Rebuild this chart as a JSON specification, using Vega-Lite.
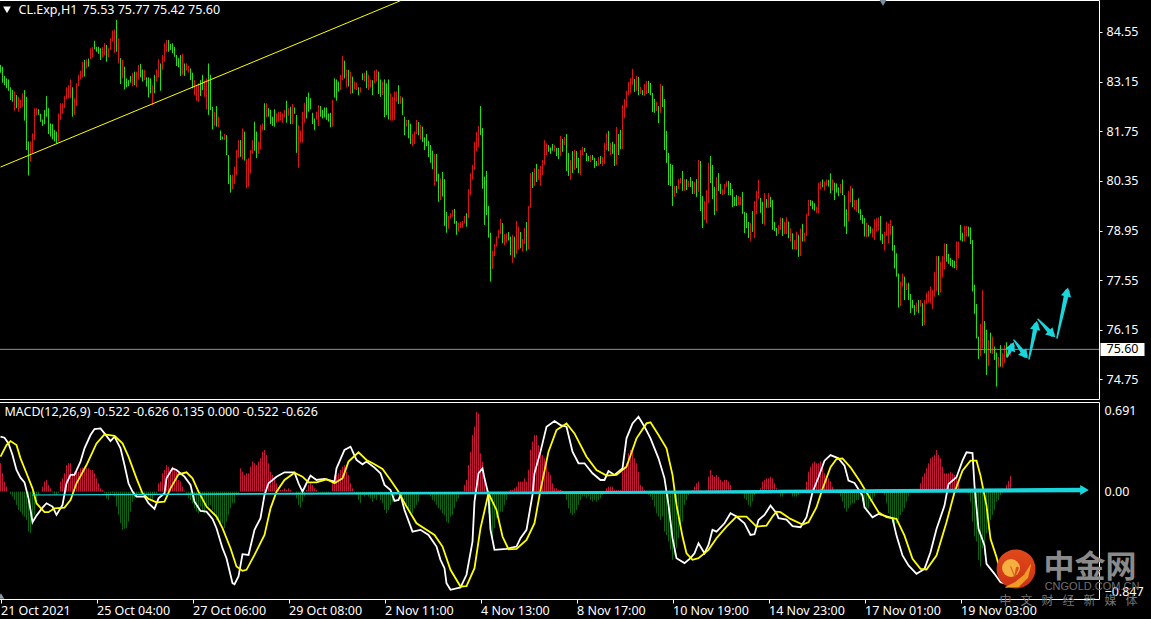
{"$schema":"https://vega.github.io/schema/vega-lite/v6.json","background":"#000000","padding":{"left":-4,"top":-2,"right":6,"bottom":2},"spacing":1,
"config":{"view":{"stroke":"#ffffff","strokeWidth":1},"axis":{"labelFont":"Noto Sans","labelFontSize":12.5,"labelColor":"#ffffff","grid":false,"domain":false,"title":null,"tickColor":"#ffffff"},"text":{"font":"Noto Sans","fontSize":12.5,"color":"#ffffff"}},
"datasets":{"b":[
{"x":0,"l":83.4,"h":83.62,"u":1,"d":0.241},{"x":1,"l":83.12,"h":83.57,"u":1,"d":0.156},{"x":2,"l":83.05,"h":83.31,"u":1,"d":0.085},{"x":3,"l":82.96,"h":83.24,"u":1,"d":0.042},{"x":4,"l":82.89,"h":83.21,"u":1,"d":0},{"x":5,"l":82.63,"h":82.99,"u":1,"d":-0.023},{"x":6,"l":82.58,"h":82.91,"u":1,"d":-0.042},{"x":7,"l":82.33,"h":82.87,"u":0,"d":-0.071},{"x":8,"l":82.4,"h":82.77,"u":1,"d":-0.113},{"x":9,"l":82.3,"h":82.72,"u":0,"d":-0.156},
{"x":10,"l":82.4,"h":82.63,"u":0,"d":-0.17},{"x":11,"l":82.44,"h":82.82,"u":0,"d":-0.198},{"x":12,"l":82.05,"h":82.91,"u":1,"d":-0.212},{"x":13,"l":81.22,"h":82.72,"u":1,"d":-0.241},{"x":14,"l":80.5,"h":81.46,"u":1,"d":-0.34},{"x":15,"l":80.89,"h":81.46,"u":0,"d":-0.354},{"x":16,"l":81.13,"h":81.69,"u":0,"d":-0.283},{"x":17,"l":81.5,"h":82.4,"u":0,"d":-0.198},{"x":18,"l":82.21,"h":82.4,"u":0,"d":-0.085},{"x":19,"l":82.21,"h":82.37,"u":1,"d":-0.028},
{"x":20,"l":82.02,"h":82.24,"u":1,"d":0},{"x":21,"l":81.9,"h":82.08,"u":1,"d":0.042},{"x":22,"l":81.95,"h":82.35,"u":1,"d":0.085},{"x":23,"l":82.16,"h":82.74,"u":1,"d":0.099},{"x":24,"l":81.67,"h":82.4,"u":1,"d":0.057},{"x":25,"l":81.6,"h":81.97,"u":1,"d":0.028},{"x":26,"l":81.52,"h":81.95,"u":1,"d":-0.008},{"x":27,"l":81.46,"h":81.78,"u":1,"d":-0.023},{"x":28,"l":81.41,"h":81.74,"u":1,"d":-0.028},{"x":29,"l":81.46,"h":82.25,"u":0,"d":-0.014},
{"x":30,"l":82.07,"h":82.54,"u":0,"d":0.085},{"x":31,"l":82.24,"h":82.54,"u":0,"d":0.113},{"x":32,"l":82.4,"h":82.74,"u":0,"d":0.156},{"x":33,"l":82.65,"h":82.99,"u":0,"d":0.226},{"x":34,"l":82.68,"h":83.05,"u":0,"d":0.241},{"x":35,"l":82.68,"h":83.21,"u":0,"d":0.241},{"x":36,"l":82.16,"h":82.99,"u":1,"d":0.156},{"x":37,"l":82.21,"h":82.68,"u":0,"d":0.17},{"x":38,"l":82.46,"h":83.1,"u":0,"d":0.198},{"x":39,"l":83.02,"h":83.34,"u":0,"d":0.17},
{"x":40,"l":83.21,"h":83.46,"u":0,"d":0.198},{"x":41,"l":83.27,"h":83.71,"u":0,"d":0.204},{"x":42,"l":83.29,"h":83.76,"u":1,"d":0.212},{"x":43,"l":83.52,"h":83.78,"u":0,"d":0.198},{"x":44,"l":83.57,"h":83.8,"u":1,"d":0.198},{"x":45,"l":83.78,"h":84.09,"u":0,"d":0.184},{"x":46,"l":83.83,"h":84.13,"u":0,"d":0.184},{"x":47,"l":84.06,"h":84.3,"u":1,"d":0.156},{"x":48,"l":83.99,"h":84.13,"u":1,"d":0.113},{"x":49,"l":83.93,"h":84.13,"u":1,"d":0.071},
{"x":50,"l":83.76,"h":84.09,"u":1,"d":0.028},{"x":51,"l":83.83,"h":84.12,"u":0,"d":0.014},{"x":52,"l":83.9,"h":84.23,"u":0,"d":-0.014},{"x":53,"l":83.71,"h":84.18,"u":1,"d":-0.057},{"x":54,"l":83.83,"h":84.09,"u":0,"d":-0.071},{"x":55,"l":84.04,"h":84.37,"u":0,"d":-0.028},{"x":56,"l":84.28,"h":84.59,"u":0,"d":-0.014},{"x":57,"l":83.96,"h":84.62,"u":0,"d":-0.042},{"x":58,"l":83.99,"h":84.89,"u":1,"d":-0.127},{"x":59,"l":83.66,"h":84.37,"u":0,"d":-0.198},
{"x":60,"l":83.08,"h":83.81,"u":1,"d":-0.269},{"x":61,"l":83.24,"h":83.76,"u":0,"d":-0.325},{"x":62,"l":82.93,"h":83.57,"u":1,"d":-0.317},{"x":63,"l":82.99,"h":83.24,"u":1,"d":-0.311},{"x":64,"l":83.02,"h":83.19,"u":1,"d":-0.255},{"x":65,"l":83.12,"h":83.31,"u":1,"d":-0.17},{"x":66,"l":83.02,"h":83.4,"u":0,"d":-0.085},{"x":67,"l":83.05,"h":83.43,"u":1,"d":-0.057},{"x":68,"l":82.99,"h":83.43,"u":0,"d":-0.042},{"x":69,"l":83.21,"h":83.62,"u":0,"d":-0.014},
{"x":70,"l":83.27,"h":83.65,"u":1,"d":-0.014},{"x":71,"l":83.15,"h":83.49,"u":1,"d":-0.028},{"x":72,"l":83.19,"h":83.48,"u":0,"d":-0.042},{"x":73,"l":83.01,"h":83.27,"u":1,"d":-0.028},{"x":74,"l":82.7,"h":83.27,"u":1,"d":-0.042},{"x":75,"l":82.82,"h":83.24,"u":1,"d":-0.057},{"x":76,"l":82.49,"h":83.05,"u":0,"d":-0.071},{"x":77,"l":82.82,"h":83.34,"u":1,"d":-0.028},{"x":78,"l":83.15,"h":83.49,"u":0,"d":-0.014},{"x":79,"l":83.27,"h":83.78,"u":0,"d":0.071},
{"x":80,"l":82.89,"h":83.66,"u":1,"d":0.085},{"x":81,"l":83.48,"h":83.9,"u":0,"d":0.156},{"x":82,"l":83.71,"h":84.23,"u":0,"d":0.184},{"x":83,"l":83.99,"h":84.32,"u":0,"d":0.226},{"x":84,"l":83.99,"h":84.32,"u":1,"d":0.212},{"x":85,"l":84.04,"h":84.21,"u":1,"d":0.184},{"x":86,"l":83.95,"h":84.23,"u":1,"d":0.212},{"x":87,"l":83.85,"h":84.13,"u":1,"d":0.198},{"x":88,"l":83.59,"h":83.9,"u":1,"d":0.17},{"x":89,"l":83.55,"h":83.81,"u":1,"d":0.099},
{"x":90,"l":83.31,"h":83.9,"u":1,"d":0.085},{"x":91,"l":83.34,"h":83.93,"u":0,"d":0.042},{"x":92,"l":83.31,"h":83.66,"u":1,"d":0.008},{"x":93,"l":83.46,"h":83.66,"u":0,"d":-0.028},{"x":94,"l":83.4,"h":83.59,"u":0,"d":-0.057},{"x":95,"l":83.19,"h":83.52,"u":1,"d":-0.071},{"x":96,"l":82.96,"h":83.4,"u":1,"d":-0.099},{"x":97,"l":82.77,"h":83.19,"u":0,"d":-0.142},{"x":98,"l":82.61,"h":83.05,"u":0,"d":-0.17},{"x":99,"l":82.58,"h":83.1,"u":0,"d":-0.184},
{"x":100,"l":82.74,"h":83.19,"u":1,"d":-0.127},{"x":101,"l":82.91,"h":83.34,"u":1,"d":-0.17},{"x":102,"l":82.72,"h":83.18,"u":0,"d":-0.184},{"x":103,"l":82.37,"h":83.24,"u":0,"d":-0.142},{"x":104,"l":82.21,"h":83.66,"u":1,"d":-0.127},{"x":105,"l":82.35,"h":83.34,"u":1,"d":-0.113},{"x":106,"l":81.8,"h":82.44,"u":1,"d":-0.156},{"x":107,"l":81.9,"h":82.3,"u":0,"d":-0.198},{"x":108,"l":81.88,"h":82.46,"u":1,"d":-0.241},{"x":109,"l":81.86,"h":82.16,"u":0,"d":-0.241},
{"x":110,"l":81.5,"h":81.77,"u":1,"d":-0.283},{"x":111,"l":81.52,"h":81.6,"u":1,"d":-0.269},{"x":112,"l":81.5,"h":81.67,"u":0,"d":-0.311},{"x":113,"l":81.08,"h":81.64,"u":1,"d":-0.255},{"x":114,"l":80.26,"h":81.08,"u":1,"d":-0.198},{"x":115,"l":80.02,"h":80.52,"u":1,"d":-0.142},{"x":116,"l":80.11,"h":80.52,"u":0,"d":-0.099},{"x":117,"l":80.26,"h":80.75,"u":0,"d":-0.099},{"x":118,"l":80.52,"h":81.22,"u":0,"d":-0.028},{"x":119,"l":81.01,"h":81.5,"u":0,"d":-0.014},
{"x":120,"l":81.03,"h":81.5,"u":1,"d":0.198},{"x":121,"l":80.96,"h":81.83,"u":0,"d":0.17},{"x":122,"l":80.92,"h":81.74,"u":1,"d":0.142},{"x":123,"l":80.14,"h":80.96,"u":0,"d":0.156},{"x":124,"l":80.19,"h":80.99,"u":0,"d":0.156},{"x":125,"l":80.56,"h":81.22,"u":0,"d":0.212},{"x":126,"l":81.11,"h":81.5,"u":0,"d":0.255},{"x":127,"l":81.2,"h":82.02,"u":1,"d":0.241},{"x":128,"l":80.99,"h":81.74,"u":1,"d":0.226},{"x":129,"l":81.11,"h":81.46,"u":0,"d":0.255},
{"x":130,"l":81.24,"h":81.92,"u":0,"d":0.283},{"x":131,"l":81.77,"h":81.97,"u":0,"d":0.34},{"x":132,"l":81.78,"h":82.54,"u":1,"d":0.354},{"x":133,"l":82.14,"h":82.54,"u":0,"d":0.311},{"x":134,"l":82.16,"h":82.4,"u":1,"d":0.241},{"x":135,"l":81.95,"h":82.35,"u":1,"d":0.17},{"x":136,"l":81.9,"h":82.16,"u":1,"d":0.142},{"x":137,"l":81.88,"h":82.37,"u":1,"d":0.113},{"x":138,"l":81.99,"h":82.25,"u":0,"d":0.071},{"x":139,"l":82.02,"h":82.3,"u":0,"d":0.028},
{"x":140,"l":82.05,"h":82.3,"u":0,"d":0.014},{"x":141,"l":81.99,"h":82.25,"u":0,"d":0.014},{"x":142,"l":82.14,"h":82.35,"u":0,"d":0.028},{"x":143,"l":81.99,"h":82.61,"u":1,"d":0.014},{"x":144,"l":82.18,"h":82.4,"u":0,"d":0.028},{"x":145,"l":81.95,"h":82.44,"u":1,"d":0.014},{"x":146,"l":81.95,"h":82.52,"u":0,"d":0},{"x":147,"l":82.24,"h":82.42,"u":1,"d":0},{"x":148,"l":81.14,"h":82.21,"u":1,"d":-0.057},{"x":149,"l":80.72,"h":81.92,"u":0,"d":-0.113},
{"x":150,"l":81.43,"h":81.77,"u":0,"d":-0.136},{"x":151,"l":81.43,"h":82.3,"u":0,"d":-0.085},{"x":152,"l":81.99,"h":82.55,"u":0,"d":-0.042},{"x":153,"l":82.11,"h":82.72,"u":1,"d":0.014},{"x":154,"l":82.3,"h":82.84,"u":1,"d":0.057},{"x":155,"l":82.37,"h":82.68,"u":1,"d":0.071},{"x":156,"l":81.95,"h":82.27,"u":1,"d":0.057},{"x":157,"l":81.78,"h":82.11,"u":1,"d":0.028},{"x":158,"l":82.08,"h":82.3,"u":0,"d":0.014},{"x":159,"l":81.9,"h":82.49,"u":0,"d":-0.008},
{"x":160,"l":82.16,"h":82.46,"u":1,"d":-0.008},{"x":161,"l":82.11,"h":82.35,"u":1,"d":-0.014},{"x":162,"l":82.14,"h":82.42,"u":1,"d":-0.008},{"x":163,"l":82.07,"h":82.42,"u":1,"d":-0.023},{"x":164,"l":82.02,"h":82.25,"u":1,"d":-0.014},{"x":165,"l":81.86,"h":82.27,"u":1,"d":-0.008},{"x":166,"l":81.88,"h":82.63,"u":0,"d":0.099},{"x":167,"l":82.7,"h":83.24,"u":1,"d":0.142},{"x":168,"l":82.61,"h":83.21,"u":1,"d":0.142},{"x":169,"l":82.87,"h":83.15,"u":1,"d":0.156},
{"x":170,"l":82.91,"h":83.34,"u":0,"d":0.184},{"x":171,"l":83.19,"h":83.87,"u":0,"d":0.212},{"x":172,"l":83.24,"h":83.74,"u":1,"d":0.226},{"x":173,"l":82.99,"h":83.49,"u":0,"d":0.17},{"x":174,"l":83.01,"h":83.48,"u":1,"d":0.142},{"x":175,"l":82.8,"h":83.43,"u":0,"d":0.071},{"x":176,"l":82.82,"h":83.29,"u":1,"d":0.028},{"x":177,"l":82.93,"h":83.15,"u":0,"d":-0.008},{"x":178,"l":82.91,"h":83.12,"u":0,"d":-0.028},{"x":179,"l":82.77,"h":82.99,"u":1,"d":-0.071},
{"x":180,"l":82.84,"h":82.99,"u":0,"d":-0.099},{"x":181,"l":83.19,"h":83.38,"u":1,"d":-0.028},{"x":182,"l":83.15,"h":83.4,"u":0,"d":-0.042},{"x":183,"l":82.96,"h":83.46,"u":1,"d":-0.028},{"x":184,"l":82.91,"h":83.34,"u":0,"d":-0.042},{"x":185,"l":82.99,"h":83.21,"u":0,"d":-0.057},{"x":186,"l":82.77,"h":83.19,"u":1,"d":-0.085},{"x":187,"l":83.1,"h":83.46,"u":0,"d":-0.057},{"x":188,"l":83.15,"h":83.49,"u":0,"d":-0.071},{"x":189,"l":82.8,"h":83.43,"u":1,"d":-0.028},
{"x":190,"l":82.72,"h":83.21,"u":1,"d":-0.071},{"x":191,"l":82.77,"h":83.15,"u":0,"d":-0.099},{"x":192,"l":82.14,"h":83.21,"u":1,"d":-0.156},{"x":193,"l":82.21,"h":83.1,"u":1,"d":-0.184},{"x":194,"l":82.08,"h":83.21,"u":1,"d":-0.156},{"x":195,"l":82.05,"h":82.82,"u":0,"d":-0.113},{"x":196,"l":82.05,"h":82.72,"u":0,"d":-0.085},{"x":197,"l":82.07,"h":82.87,"u":0,"d":-0.042},{"x":198,"l":82.58,"h":82.87,"u":0,"d":-0.014},{"x":199,"l":82.52,"h":83.05,"u":1,"d":-0.008},
{"x":200,"l":82.52,"h":82.74,"u":0,"d":-0.028},{"x":201,"l":82.21,"h":82.7,"u":1,"d":-0.042},{"x":202,"l":81.64,"h":82.16,"u":1,"d":-0.071},{"x":203,"l":81.88,"h":82.07,"u":0,"d":-0.113},{"x":204,"l":81.55,"h":82.07,"u":1,"d":-0.156},{"x":205,"l":81.39,"h":81.96,"u":1,"d":-0.17},{"x":206,"l":81.33,"h":81.67,"u":0,"d":-0.184},{"x":207,"l":81.39,"h":81.74,"u":0,"d":-0.142},{"x":208,"l":81.67,"h":82.07,"u":0,"d":-0.113},{"x":209,"l":81.64,"h":82.01,"u":1,"d":-0.085},
{"x":210,"l":81.52,"h":81.93,"u":0,"d":-0.014},{"x":211,"l":81.45,"h":81.88,"u":1,"d":-0.008},{"x":212,"l":81.22,"h":81.58,"u":1,"d":-0.008},{"x":213,"l":81.33,"h":81.67,"u":1,"d":-0.014},{"x":214,"l":81.02,"h":81.48,"u":1,"d":-0.014},{"x":215,"l":80.86,"h":81.36,"u":1,"d":-0.042},{"x":216,"l":80.68,"h":81.2,"u":1,"d":-0.071},{"x":217,"l":80.21,"h":81.11,"u":0,"d":-0.085},{"x":218,"l":80.33,"h":81.11,"u":1,"d":-0.113},{"x":219,"l":79.76,"h":80.55,"u":1,"d":-0.142},
{"x":220,"l":79.81,"h":80.42,"u":0,"d":-0.156},{"x":221,"l":79.91,"h":80.6,"u":1,"d":-0.184},{"x":222,"l":79.08,"h":80.4,"u":1,"d":-0.198},{"x":223,"l":78.89,"h":79.47,"u":1,"d":-0.255},{"x":224,"l":79,"h":79.36,"u":0,"d":-0.269},{"x":225,"l":79.29,"h":79.44,"u":0,"d":-0.212},{"x":226,"l":79.34,"h":79.53,"u":0,"d":-0.198},{"x":227,"l":79.14,"h":79.56,"u":1,"d":-0.142},{"x":228,"l":78.83,"h":79.22,"u":1,"d":-0.085},{"x":229,"l":78.92,"h":79.17,"u":0,"d":-0.057},
{"x":230,"l":79.02,"h":79.19,"u":0,"d":-0.014},{"x":231,"l":79.03,"h":79.22,"u":0,"d":-0.008},{"x":232,"l":79.15,"h":79.36,"u":0,"d":0.057},{"x":233,"l":79.06,"h":79.44,"u":1,"d":0.099},{"x":234,"l":79.3,"h":80.12,"u":0,"d":0.226},{"x":235,"l":79.95,"h":80.57,"u":0,"d":0.34},{"x":236,"l":80.39,"h":80.8,"u":0,"d":0.481},{"x":237,"l":80.66,"h":81.45,"u":0,"d":0.552},{"x":238,"l":81.19,"h":81.73,"u":0,"d":0.679},{"x":239,"l":81.3,"h":81.9,"u":0,"d":0.665},
{"x":240,"l":81.64,"h":82.46,"u":1,"d":0.325},{"x":241,"l":80.13,"h":81.84,"u":1,"d":0.255},{"x":242,"l":79.11,"h":80.47,"u":1,"d":0.085},{"x":243,"l":79.39,"h":80.63,"u":1,"d":-0.014},{"x":244,"l":78.75,"h":79.64,"u":1,"d":-0.184},{"x":245,"l":77.51,"h":78.89,"u":1,"d":-0.34},{"x":246,"l":77.87,"h":78.38,"u":0,"d":-0.425},{"x":247,"l":78.23,"h":78.57,"u":0,"d":-0.311},{"x":248,"l":78.5,"h":78.78,"u":0,"d":-0.226},{"x":249,"l":78.73,"h":78.97,"u":0,"d":-0.198},
{"x":250,"l":78.85,"h":79.28,"u":0,"d":-0.17},{"x":251,"l":78.59,"h":79.16,"u":1,"d":-0.17},{"x":252,"l":78.54,"h":78.85,"u":0,"d":-0.113},{"x":253,"l":78.61,"h":78.87,"u":0,"d":-0.071},{"x":254,"l":78.67,"h":78.91,"u":1,"d":-0.008},{"x":255,"l":78.26,"h":78.78,"u":1,"d":0.014},{"x":256,"l":78.04,"h":78.83,"u":0,"d":0.014},{"x":257,"l":78.19,"h":78.78,"u":1,"d":0.028},{"x":258,"l":78.29,"h":79.22,"u":0,"d":0.042},{"x":259,"l":78.42,"h":79.06,"u":0,"d":0.085},
{"x":260,"l":78.45,"h":78.91,"u":1,"d":0.085},{"x":261,"l":78.36,"h":78.71,"u":0,"d":0.085},{"x":262,"l":78.57,"h":79.03,"u":0,"d":0.113},{"x":263,"l":78.38,"h":79.19,"u":1,"d":0.085},{"x":264,"l":78.42,"h":79.64,"u":0,"d":0.184},{"x":265,"l":79.59,"h":80.57,"u":0,"d":0.354},{"x":266,"l":80.15,"h":80.6,"u":1,"d":0.425},{"x":267,"l":80.21,"h":80.71,"u":0,"d":0.481},{"x":268,"l":80.32,"h":80.83,"u":1,"d":0.481},{"x":269,"l":80.38,"h":80.69,"u":0,"d":0.396},
{"x":270,"l":80.21,"h":80.77,"u":0,"d":0.354},{"x":271,"l":80.52,"h":80.94,"u":0,"d":0.311},{"x":272,"l":80.8,"h":81.5,"u":0,"d":0.283},{"x":273,"l":81.08,"h":81.41,"u":0,"d":0.241},{"x":274,"l":81.17,"h":81.36,"u":1,"d":0.17},{"x":275,"l":81.11,"h":81.29,"u":1,"d":0.142},{"x":276,"l":81.2,"h":81.39,"u":1,"d":0.071},{"x":277,"l":81.17,"h":81.36,"u":0,"d":0.028},{"x":278,"l":81.05,"h":81.28,"u":1,"d":0.028},{"x":279,"l":80.97,"h":81.28,"u":1,"d":0.014},
{"x":280,"l":81.05,"h":81.62,"u":0,"d":0.014},{"x":281,"l":81.17,"h":81.53,"u":1,"d":-0.014},{"x":282,"l":81.36,"h":81.59,"u":0,"d":-0.014},{"x":283,"l":80.63,"h":81.67,"u":1,"d":-0.071},{"x":284,"l":80.49,"h":81.14,"u":1,"d":-0.142},{"x":285,"l":80.38,"h":80.94,"u":0,"d":-0.184},{"x":286,"l":80.57,"h":81.19,"u":1,"d":-0.198},{"x":287,"l":80.66,"h":81.22,"u":0,"d":-0.184},{"x":288,"l":80.71,"h":81.19,"u":1,"d":-0.156},{"x":289,"l":80.57,"h":81,"u":1,"d":-0.113},
{"x":290,"l":80.52,"h":81.22,"u":0,"d":-0.071},{"x":291,"l":81.08,"h":81.31,"u":0,"d":-0.042},{"x":292,"l":81.17,"h":81.28,"u":1,"d":-0.042},{"x":293,"l":80.91,"h":81.14,"u":1,"d":-0.057},{"x":294,"l":80.91,"h":81.05,"u":1,"d":-0.042},{"x":295,"l":80.88,"h":81.08,"u":0,"d":-0.071},{"x":296,"l":80.94,"h":81.08,"u":1,"d":-0.085},{"x":297,"l":80.71,"h":81,"u":1,"d":-0.071},{"x":298,"l":80.77,"h":80.91,"u":1,"d":-0.085},{"x":299,"l":80.77,"h":81.02,"u":0,"d":-0.071},
{"x":300,"l":80.83,"h":81.05,"u":1,"d":-0.057},{"x":301,"l":80.77,"h":81.02,"u":0,"d":-0.028},{"x":302,"l":80.83,"h":81.42,"u":0,"d":-0.008},{"x":303,"l":81.22,"h":81.7,"u":0,"d":0.028},{"x":304,"l":81.19,"h":81.76,"u":1,"d":0.042},{"x":305,"l":81.08,"h":81.42,"u":0,"d":0.042},{"x":306,"l":81.11,"h":81.45,"u":1,"d":0.042},{"x":307,"l":80.77,"h":81.39,"u":1,"d":0.014},{"x":308,"l":80.8,"h":81.87,"u":0,"d":0.014},{"x":309,"l":81.08,"h":81.67,"u":1,"d":0.014},
{"x":310,"l":81.25,"h":81.79,"u":1,"d":0.014},{"x":311,"l":81.25,"h":82.49,"u":0,"d":0.17},{"x":312,"l":82.12,"h":82.66,"u":0,"d":0.212},{"x":313,"l":82.43,"h":82.89,"u":0,"d":0.241},{"x":314,"l":82.77,"h":83.14,"u":0,"d":0.325},{"x":315,"l":82.83,"h":83.25,"u":0,"d":0.354},{"x":316,"l":83.06,"h":83.51,"u":0,"d":0.34},{"x":317,"l":82.86,"h":83.22,"u":1,"d":0.283},{"x":318,"l":82.89,"h":83.31,"u":0,"d":0.241},{"x":319,"l":82.77,"h":83.28,"u":1,"d":0.17},
{"x":320,"l":82.8,"h":83,"u":0,"d":0.057},{"x":321,"l":82.77,"h":82.91,"u":1,"d":0.042},{"x":322,"l":82.74,"h":83.08,"u":0,"d":0.014},{"x":323,"l":82.8,"h":83.17,"u":0,"d":-0.008},{"x":324,"l":82.83,"h":83.17,"u":1,"d":-0.028},{"x":325,"l":82.77,"h":83.11,"u":1,"d":-0.042},{"x":326,"l":82.29,"h":82.83,"u":1,"d":-0.071},{"x":327,"l":82.27,"h":82.66,"u":1,"d":-0.127},{"x":328,"l":82.32,"h":82.58,"u":0,"d":-0.184},{"x":329,"l":81.98,"h":82.46,"u":1,"d":-0.212},
{"x":330,"l":82.27,"h":83.08,"u":0,"d":-0.241},{"x":331,"l":82.43,"h":83.03,"u":1,"d":-0.212},{"x":332,"l":81.22,"h":82.66,"u":1,"d":-0.34},{"x":333,"l":80.86,"h":81.76,"u":1,"d":-0.368},{"x":334,"l":80.23,"h":81.14,"u":1,"d":-0.425},{"x":335,"l":80.21,"h":80.83,"u":1,"d":-0.495},{"x":336,"l":79.64,"h":80.8,"u":1,"d":-0.58},{"x":337,"l":79.9,"h":80.21,"u":0,"d":-0.538},{"x":338,"l":80.01,"h":80.21,"u":1,"d":-0.481},{"x":339,"l":80.12,"h":80.4,"u":0,"d":-0.396},
{"x":340,"l":80.29,"h":80.43,"u":0,"d":-0.311},{"x":341,"l":80.07,"h":80.63,"u":1,"d":-0.255},{"x":342,"l":80.07,"h":80.4,"u":0,"d":-0.113},{"x":343,"l":80.09,"h":80.4,"u":1,"d":-0.071},{"x":344,"l":80.18,"h":80.35,"u":0,"d":-0.028},{"x":345,"l":80.18,"h":80.46,"u":1,"d":-0.008},{"x":346,"l":79.98,"h":80.35,"u":1,"d":0.014},{"x":347,"l":79.98,"h":80.32,"u":0,"d":0.042},{"x":348,"l":79.9,"h":80.4,"u":1,"d":0.071},{"x":349,"l":80.04,"h":80.94,"u":0,"d":0.085},
{"x":350,"l":79.5,"h":80.91,"u":1,"d":0.014},{"x":351,"l":79.02,"h":79.92,"u":1,"d":-0.008},{"x":352,"l":79.25,"h":79.78,"u":0,"d":-0.008},{"x":353,"l":79.16,"h":80.09,"u":0,"d":0.014},{"x":354,"l":79.73,"h":80.86,"u":0,"d":0.127},{"x":355,"l":80.29,"h":81.05,"u":1,"d":0.184},{"x":356,"l":79.84,"h":80.8,"u":1,"d":0.142},{"x":357,"l":79.39,"h":80.18,"u":1,"d":0.127},{"x":358,"l":79.5,"h":80.46,"u":0,"d":0.142},{"x":359,"l":80.07,"h":80.57,"u":1,"d":0.127},
{"x":360,"l":79.98,"h":80.26,"u":1,"d":0.099},{"x":361,"l":79.95,"h":80.12,"u":0,"d":0.085},{"x":362,"l":79.98,"h":80.26,"u":0,"d":0.099},{"x":363,"l":80.18,"h":80.35,"u":0,"d":0.099},{"x":364,"l":79.95,"h":80.35,"u":1,"d":0.085},{"x":365,"l":79.95,"h":80.29,"u":1,"d":0.057},{"x":366,"l":79.61,"h":80.12,"u":1,"d":0.014},{"x":367,"l":79.64,"h":79.9,"u":1,"d":-0.008},{"x":368,"l":79.64,"h":79.95,"u":1,"d":-0.014},{"x":369,"l":79.67,"h":79.92,"u":0,"d":-0.008},
{"x":370,"l":79.67,"h":79.9,"u":0,"d":-0.008},{"x":371,"l":79.42,"h":80.04,"u":1,"d":-0.014},{"x":372,"l":78.88,"h":79.47,"u":1,"d":-0.057},{"x":373,"l":79.02,"h":79.45,"u":1,"d":-0.071},{"x":374,"l":78.74,"h":79.19,"u":1,"d":-0.113},{"x":375,"l":78.66,"h":79.16,"u":0,"d":-0.127},{"x":376,"l":78.91,"h":79.5,"u":1,"d":-0.085},{"x":377,"l":78.74,"h":79.78,"u":0,"d":-0.028},{"x":378,"l":79.42,"h":80.07,"u":0,"d":-0.008},{"x":379,"l":79.84,"h":80.38,"u":0,"d":-0.008},
{"x":380,"l":79.45,"h":79.87,"u":1,"d":0.028},{"x":381,"l":79.14,"h":79.76,"u":1,"d":0.085},{"x":382,"l":79.11,"h":80.01,"u":0,"d":0.099},{"x":383,"l":79.59,"h":79.84,"u":1,"d":0.113},{"x":384,"l":79.59,"h":80.01,"u":0,"d":0.113},{"x":385,"l":79.61,"h":79.9,"u":1,"d":0.127},{"x":386,"l":78.97,"h":79.81,"u":1,"d":0.113},{"x":387,"l":78.94,"h":79.19,"u":1,"d":0.071},{"x":388,"l":78.8,"h":79.02,"u":1,"d":0.028},{"x":389,"l":78.85,"h":79.11,"u":0,"d":-0.014},
{"x":390,"l":78.97,"h":79.32,"u":0,"d":-0.042},{"x":391,"l":78.8,"h":79.3,"u":1,"d":-0.042},{"x":392,"l":78.85,"h":79.2,"u":0,"d":-0.014},{"x":393,"l":78.85,"h":79.32,"u":0,"d":-0.008},{"x":394,"l":78.73,"h":79.2,"u":1,"d":-0.008},{"x":395,"l":78.64,"h":79.01,"u":0,"d":-0.008},{"x":396,"l":78.42,"h":78.87,"u":1,"d":-0.042},{"x":397,"l":78.42,"h":78.68,"u":0,"d":-0.042},{"x":398,"l":78.4,"h":78.92,"u":0,"d":-0.042},{"x":399,"l":78.21,"h":78.83,"u":1,"d":-0.028},
{"x":400,"l":78.23,"h":79.01,"u":0,"d":-0.014},{"x":401,"l":78.64,"h":79.14,"u":1,"d":-0.008},{"x":402,"l":78.64,"h":78.89,"u":0,"d":0.014},{"x":403,"l":78.8,"h":79.42,"u":0,"d":0.085},{"x":404,"l":79.36,"h":79.81,"u":0,"d":0.17},{"x":405,"l":79.64,"h":79.81,"u":1,"d":0.212},{"x":406,"l":79.55,"h":79.79,"u":1,"d":0.241},{"x":407,"l":79.51,"h":79.72,"u":1,"d":0.255},{"x":408,"l":79.45,"h":79.62,"u":0,"d":0.241},{"x":409,"l":79.44,"h":80.3,"u":0,"d":0.241},
{"x":410,"l":80.11,"h":80.33,"u":0,"d":0.255},{"x":411,"l":80.17,"h":80.39,"u":1,"d":0.212},{"x":412,"l":80.08,"h":80.33,"u":0,"d":0.156},{"x":413,"l":80.21,"h":80.39,"u":0,"d":0.127},{"x":414,"l":80.19,"h":80.38,"u":1,"d":0.113},{"x":415,"l":80,"h":80.56,"u":1,"d":0.085},{"x":416,"l":80.08,"h":80.39,"u":0,"d":0.042},{"x":417,"l":79.81,"h":80.3,"u":1,"d":0.014},{"x":418,"l":80.02,"h":80.28,"u":1,"d":-0.008},{"x":419,"l":79.92,"h":80.17,"u":1,"d":-0.014},
{"x":420,"l":80,"h":80.26,"u":0,"d":-0.042},{"x":421,"l":79.95,"h":80.39,"u":1,"d":-0.085},{"x":422,"l":79.06,"h":79.95,"u":1,"d":-0.142},{"x":423,"l":78.85,"h":79.55,"u":1,"d":-0.17},{"x":424,"l":79.2,"h":80.07,"u":0,"d":-0.142},{"x":425,"l":79.74,"h":80.21,"u":0,"d":-0.113},{"x":426,"l":79.61,"h":80.14,"u":1,"d":-0.099},{"x":427,"l":79.53,"h":79.81,"u":0,"d":-0.099},{"x":428,"l":79.48,"h":79.81,"u":0,"d":-0.071},{"x":429,"l":79.44,"h":79.86,"u":1,"d":-0.071},
{"x":430,"l":79.25,"h":79.55,"u":1,"d":-0.042},{"x":431,"l":79.14,"h":79.39,"u":1,"d":-0.085},{"x":432,"l":78.78,"h":79.3,"u":1,"d":-0.127},{"x":433,"l":78.76,"h":79.17,"u":0,"d":-0.17},{"x":434,"l":78.78,"h":79.11,"u":1,"d":-0.142},{"x":435,"l":78.87,"h":79.06,"u":1,"d":-0.085},{"x":436,"l":78.76,"h":79.01,"u":0,"d":-0.071},{"x":437,"l":78.68,"h":79.27,"u":0,"d":-0.042},{"x":438,"l":78.92,"h":79.3,"u":0,"d":-0.014},{"x":439,"l":78.95,"h":79.32,"u":0,"d":-0.008},
{"x":440,"l":78.67,"h":79.36,"u":1,"d":-0.008},{"x":441,"l":78.57,"h":78.85,"u":1,"d":-0.014},{"x":442,"l":78.38,"h":78.92,"u":0,"d":-0.028},{"x":443,"l":78.8,"h":79.2,"u":0,"d":-0.099},{"x":444,"l":78.59,"h":79.15,"u":0,"d":-0.184},{"x":445,"l":78.83,"h":79.25,"u":0,"d":-0.226},{"x":446,"l":78.38,"h":79.08,"u":1,"d":-0.269},{"x":447,"l":77.88,"h":78.54,"u":1,"d":-0.283},{"x":448,"l":77.65,"h":78.31,"u":1,"d":-0.269},{"x":449,"l":76.78,"h":77.74,"u":1,"d":-0.241},
{"x":450,"l":76.82,"h":77.51,"u":0,"d":-0.198},{"x":451,"l":77.37,"h":77.73,"u":0,"d":-0.17},{"x":452,"l":76.99,"h":77.65,"u":1,"d":-0.142},{"x":453,"l":77.27,"h":77.46,"u":0,"d":-0.085},{"x":454,"l":76.99,"h":77.48,"u":1,"d":-0.042},{"x":455,"l":76.63,"h":77.16,"u":1,"d":-0.008},{"x":456,"l":76.76,"h":76.99,"u":1,"d":-0.008},{"x":457,"l":76.57,"h":76.85,"u":1,"d":-0.008},{"x":458,"l":76.66,"h":76.92,"u":0,"d":-0.008},{"x":459,"l":76.63,"h":76.99,"u":1,"d":-0.008},
{"x":460,"l":76.8,"h":76.99,"u":0,"d":0.071},{"x":461,"l":76.26,"h":76.9,"u":1,"d":0.127},{"x":462,"l":76.29,"h":76.99,"u":0,"d":0.156},{"x":463,"l":76.88,"h":77.2,"u":0,"d":0.198},{"x":464,"l":76.92,"h":77.25,"u":0,"d":0.241},{"x":465,"l":76.9,"h":77.37,"u":0,"d":0.283},{"x":466,"l":76.74,"h":77.27,"u":0,"d":0.297},{"x":467,"l":77.09,"h":77.79,"u":0,"d":0.311},{"x":468,"l":77.25,"h":78.23,"u":0,"d":0.354},{"x":469,"l":77.13,"h":78.23,"u":1,"d":0.311},
{"x":470,"l":77.2,"h":78.07,"u":0,"d":0.283},{"x":471,"l":77.63,"h":78.23,"u":0,"d":0.212},{"x":472,"l":77.86,"h":78.59,"u":0,"d":0.156},{"x":473,"l":78.07,"h":78.57,"u":1,"d":0.156},{"x":474,"l":78.01,"h":78.29,"u":1,"d":0.156},{"x":475,"l":77.95,"h":78.17,"u":1,"d":0.17},{"x":476,"l":77.91,"h":78.12,"u":1,"d":0.156},{"x":477,"l":77.89,"h":78.1,"u":1,"d":0.142},{"x":478,"l":77.84,"h":78.64,"u":0,"d":0.127},{"x":479,"l":78.17,"h":78.64,"u":0,"d":0.085},
{"x":480,"l":78.67,"h":79.11,"u":1,"d":0.014},{"x":481,"l":78.64,"h":78.89,"u":1,"d":-0.008},{"x":482,"l":78.64,"h":79.08,"u":0,"d":-0.008},{"x":483,"l":78.78,"h":79.08,"u":0,"d":-0.008},{"x":484,"l":78.78,"h":79.06,"u":1,"d":-0.014},{"x":485,"l":78.57,"h":79.04,"u":1,"d":-0.085},{"x":486,"l":77.23,"h":78.68,"u":1,"d":-0.255},{"x":487,"l":76.6,"h":77.42,"u":1,"d":-0.382},{"x":488,"l":75.91,"h":76.88,"u":1,"d":-0.425},{"x":489,"l":75.33,"h":75.96,"u":1,"d":-0.58},
{"x":490,"l":75.4,"h":76.32,"u":0,"d":-0.637},{"x":491,"l":75.63,"h":77.27,"u":0,"d":-0.481},{"x":492,"l":75.49,"h":76.4,"u":1,"d":-0.538},{"x":493,"l":74.88,"h":76.15,"u":1,"d":-0.354},{"x":494,"l":75.13,"h":75.86,"u":0,"d":-0.325},{"x":495,"l":75.49,"h":76.07,"u":1,"d":-0.241},{"x":496,"l":75.47,"h":75.96,"u":0,"d":-0.198},{"x":497,"l":75.3,"h":75.68,"u":1,"d":-0.156},{"x":498,"l":74.55,"h":75.51,"u":1,"d":-0.085},{"x":499,"l":75.09,"h":75.39,"u":0,"d":-0.071},
{"x":500,"l":75.11,"h":75.72,"u":1,"d":-0.028},{"x":501,"l":75.09,"h":75.49,"u":0,"d":-0.008},{"x":502,"l":75.22,"h":75.72,"u":0,"d":0.014},{"x":503,"l":75.39,"h":75.8,"u":1,"d":0.057},{"x":504,"l":75.39,"h":75.58,"u":0,"d":0.091},{"x":505,"l":75.42,"h":75.77,"u":0,"d":0.133}
],
"w":[{"x":0,"v":0.467},{"x":2,"v":0.458},{"x":4,"v":0.41},{"x":6,"v":0.311},{"x":8,"v":0.184},{"x":10,"v":0.119},{"x":12,"v":0.079},{"x":14,"v":-0.057},{"x":15,"v":-0.156},{"x":16,"v":-0.26},{"x":18,"v":-0.204},{"x":21,"v":-0.136},{"x":23,"v":-0.099},{"x":26,"v":-0.127},{"x":28,"v":-0.198},{"x":31,"v":-0.113},{"x":33,"v":0.071},{"x":35,"v":0.142},{"x":37,"v":0.142},{"x":40,"v":0.255},{"x":42,"v":0.368},{"x":45,"v":0.481},{"x":47,"v":0.532},{"x":50,"v":0.538},{"x":52,"v":0.495},{"x":55,"v":0.43},{"x":57,"v":0.467},{"x":60,"v":0.368},{"x":62,"v":0.226},{"x":64,"v":0.071},{"x":66,"v":0},{"x":68,"v":-0.042},{"x":72,"v":-0.042},{"x":74,"v":-0.099},{"x":77,"v":-0.147},{"x":79,"v":-0.057},{"x":82,"v":-0.014},{"x":83,"v":0.113},{"x":86,"v":0.198},{"x":88,"v":0.184},{"x":92,"v":0.127},{"x":95,"v":0.057},{"x":97,"v":-0.085},{"x":100,"v":-0.164},{"x":103,"v":-0.17},{"x":106,"v":-0.232},{"x":108,"v":-0.311},{"x":111,"v":-0.481},{"x":113,"v":-0.566},{"x":116,"v":-0.778},{"x":117,"v":-0.787},{"x":119,"v":-0.722},{"x":121,"v":-0.532},{"x":124,"v":-0.538},{"x":127,"v":-0.325},{"x":130,"v":-0.226},{"x":132,"v":-0.028},{"x":134,"v":0.071},{"x":138,"v":0.127},{"x":142,"v":0.164},{"x":147,"v":0.164},{"x":149,"v":0.071},{"x":151,"v":0},{"x":153,"v":0.071},{"x":155,"v":0.136},{"x":158,"v":0.099},{"x":162,"v":0.108},{"x":167,"v":0.085},{"x":168,"v":0.198},{"x":172,"v":0.354},{"x":175,"v":0.382},{"x":178,"v":0.269},{"x":181,"v":0.232},{"x":183,"v":0.255},{"x":187,"v":0.204},{"x":190,"v":0.156},{"x":192,"v":0.057},{"x":195,"v":0.014},{"x":197,"v":-0.079},{"x":199,"v":-0.071},{"x":200,"v":-0.028},{"x":202,"v":-0.156},{"x":206,"v":-0.34},{"x":210,"v":-0.325},{"x":214,"v":-0.368},{"x":218,"v":-0.467},{"x":220,"v":-0.58},{"x":222,"v":-0.651},{"x":223,"v":-0.778},{"x":225,"v":-0.835},{"x":230,"v":-0.815},{"x":233,"v":-0.707},{"x":236,"v":-0.425},{"x":237,"v":-0.085},{"x":239,"v":0.156},{"x":241,"v":0.198},{"x":242,"v":0.113},{"x":244,"v":-0.028},{"x":245,"v":-0.325},{"x":247,"v":-0.495},{"x":253,"v":-0.487},{"x":258,"v":-0.467},{"x":260,"v":-0.396},{"x":263,"v":-0.325},{"x":266,"v":-0.028},{"x":267,"v":0.156},{"x":270,"v":0.34},{"x":273,"v":0.552},{"x":277,"v":0.6},{"x":280,"v":0.566},{"x":283,"v":0.552},{"x":286,"v":0.34},{"x":289,"v":0.241},{"x":292,"v":0.241},{"x":296,"v":0.156},{"x":300,"v":0.099},{"x":302,"v":0.099},{"x":304,"v":0.175},{"x":307,"v":0.142},{"x":311,"v":0.198},{"x":313,"v":0.453},{"x":316,"v":0.58},{"x":319,"v":0.637},{"x":322,"v":0.552},{"x":325,"v":0.453},{"x":329,"v":0.283},{"x":332,"v":0.113},{"x":334,"v":-0.113},{"x":336,"v":-0.396},{"x":338,"v":-0.566},{"x":342,"v":-0.608},{"x":345,"v":-0.566},{"x":347,"v":-0.524},{"x":349,"v":-0.439},{"x":352,"v":-0.524},{"x":354,"v":-0.453},{"x":356,"v":-0.325},{"x":358,"v":-0.34},{"x":362,"v":-0.269},{"x":365,"v":-0.184},{"x":368,"v":-0.212},{"x":372,"v":-0.269},{"x":375,"v":-0.368},{"x":377,"v":-0.362},{"x":379,"v":-0.241},{"x":382,"v":-0.198},{"x":385,"v":-0.119},{"x":388,"v":-0.184},{"x":389,"v":-0.226},{"x":391,"v":-0.232},{"x":393,"v":-0.238},{"x":396,"v":-0.294},{"x":400,"v":-0.303},{"x":403,"v":-0.218},{"x":406,"v":-0.006},{"x":409,"v":0.122},{"x":412,"v":0.263},{"x":415,"v":0.311},{"x":419,"v":0.283},{"x":422,"v":0.221},{"x":424,"v":0.093},{"x":427,"v":0.074},{"x":431,"v":-0.034},{"x":432,"v":-0.133},{"x":436,"v":-0.218},{"x":439,"v":-0.19},{"x":446,"v":-0.226},{"x":448,"v":-0.374},{"x":451,"v":-0.543},{"x":454,"v":-0.628},{"x":458,"v":-0.699},{"x":462,"v":-0.657},{"x":465,"v":-0.515},{"x":468,"v":-0.317},{"x":472,"v":-0.119},{"x":474,"v":0.065},{"x":478,"v":0.122},{"x":481,"v":0.263},{"x":483,"v":0.334},{"x":486,"v":0.328},{"x":487,"v":0.051},{"x":489,"v":-0.317},{"x":492,"v":-0.458},{"x":493,"v":-0.614},{"x":497,"v":-0.699},{"x":500,"v":-0.77},{"x":506,"v":-0.8}],
"y":[{"x":0,"v":0.297},{"x":3,"v":0.396},{"x":5,"v":0.43},{"x":8,"v":0.396},{"x":10,"v":0.283},{"x":13,"v":0.156},{"x":16,"v":0.028},{"x":18,"v":-0.099},{"x":22,"v":-0.175},{"x":24,"v":-0.175},{"x":27,"v":-0.142},{"x":32,"v":-0.136},{"x":35,"v":-0.071},{"x":38,"v":0.071},{"x":43,"v":0.226},{"x":48,"v":0.41},{"x":52,"v":0.487},{"x":57,"v":0.475},{"x":61,"v":0.41},{"x":64,"v":0.297},{"x":68,"v":0.113},{"x":71,"v":-0.014},{"x":74,"v":-0.062},{"x":78,"v":-0.091},{"x":82,"v":-0.085},{"x":85,"v":0.028},{"x":89,"v":0.147},{"x":93,"v":0.164},{"x":96,"v":0.113},{"x":99,"v":0},{"x":103,"v":-0.127},{"x":108,"v":-0.212},{"x":111,"v":-0.311},{"x":115,"v":-0.481},{"x":118,"v":-0.637},{"x":121,"v":-0.674},{"x":123,"v":-0.665},{"x":127,"v":-0.538},{"x":132,"v":-0.368},{"x":135,"v":-0.142},{"x":138,"v":0},{"x":142,"v":0.099},{"x":147,"v":0.161},{"x":151,"v":0.127},{"x":154,"v":0.079},{"x":158,"v":0.079},{"x":163,"v":0.105},{"x":167,"v":0.071},{"x":171,"v":0.113},{"x":174,"v":0.255},{"x":179,"v":0.334},{"x":183,"v":0.269},{"x":187,"v":0.232},{"x":191,"v":0.193},{"x":195,"v":0.099},{"x":199,"v":0},{"x":203,"v":-0.127},{"x":208,"v":-0.269},{"x":213,"v":-0.325},{"x":217,"v":-0.368},{"x":221,"v":-0.467},{"x":225,"v":-0.665},{"x":230,"v":-0.807},{"x":233,"v":-0.804},{"x":237,"v":-0.651},{"x":240,"v":-0.311},{"x":244,"v":-0.014},{"x":248,"v":-0.156},{"x":251,"v":-0.382},{"x":254,"v":-0.49},{"x":258,"v":-0.487},{"x":263,"v":-0.411},{"x":267,"v":-0.269},{"x":270,"v":0.014},{"x":274,"v":0.34},{"x":278,"v":0.524},{"x":283,"v":0.58},{"x":287,"v":0.495},{"x":293,"v":0.297},{"x":298,"v":0.184},{"x":303,"v":0.136},{"x":308,"v":0.142},{"x":313,"v":0.212},{"x":318,"v":0.453},{"x":323,"v":0.58},{"x":325,"v":0.589},{"x":329,"v":0.481},{"x":333,"v":0.368},{"x":336,"v":0.142},{"x":338,"v":-0.113},{"x":341,"v":-0.382},{"x":343,"v":-0.524},{"x":346,"v":-0.58},{"x":349,"v":-0.566},{"x":354,"v":-0.495},{"x":358,"v":-0.396},{"x":363,"v":-0.297},{"x":368,"v":-0.212},{"x":373,"v":-0.212},{"x":378,"v":-0.297},{"x":383,"v":-0.289},{"x":386,"v":-0.212},{"x":388,"v":-0.17},{"x":390,"v":-0.175},{"x":395,"v":-0.232},{"x":401,"v":-0.28},{"x":404,"v":-0.26},{"x":408,"v":-0.133},{"x":411,"v":0.023},{"x":415,"v":0.207},{"x":418,"v":0.277},{"x":421,"v":0.283},{"x":425,"v":0.207},{"x":430,"v":0.079},{"x":434,"v":-0.034},{"x":439,"v":-0.175},{"x":443,"v":-0.218},{"x":448,"v":-0.232},{"x":452,"v":-0.374},{"x":456,"v":-0.572},{"x":460,"v":-0.657},{"x":463,"v":-0.662},{"x":468,"v":-0.543},{"x":473,"v":-0.26},{"x":477,"v":-0.006},{"x":481,"v":0.178},{"x":485,"v":0.263},{"x":488,"v":0.263},{"x":490,"v":0.136},{"x":493,"v":-0.119},{"x":495,"v":-0.402},{"x":498,"v":-0.557},{"x":500,"v":-0.685},{"x":506,"v":-0.8}],
"arrows":[{"s":1,"x":503.25,"p":75.38,"w":1.5},{"s":1,"x":505.75,"p":75.69,"w":5},{"s":2,"x":506.75,"p":75.86,"w":1.5},{"s":2,"x":512.25,"p":75.44,"w":5},{"s":3,"x":514.25,"p":75.33,"w":1.5},{"s":3,"x":517.75,"p":76.28,"w":5},{"s":4,"x":518.75,"p":76.45,"w":1.5},{"s":4,"x":525.75,"p":76.03,"w":5},{"s":5,"x":528.25,"p":75.92,"w":1.5},{"s":5,"x":533.25,"p":77.22,"w":5}],
"heads":[{"x":505.75,"p":75.69,"a":22},{"x":512.25,"p":75.44,"a":142},{"x":517.75,"p":76.28,"a":11},{"x":525.75,"p":76.03,"a":135},{"x":533.25,"p":77.22,"a":12}]
},
"vconcat":[
{"width":1100,"height":399,
"encoding":{"x":{"field":"x","type":"quantitative","scale":{"domain":[-0.75,549.25],"nice":false,"zero":false},"axis":null}},
"layer":[
{"data":{"name":"b"},"mark":{"type":"rule","strokeWidth":1},"encoding":{"y":{"field":"l","type":"quantitative","scale":{"domain":[74.2,85.45],"nice":false,"zero":false},"axis":{"orient":"right","values":[84.55,83.15,81.75,80.35,78.95,77.55,76.15,74.75],"format":".2f","tickSize":3,"labelPadding":4,"title":null}},"y2":{"field":"h"},"color":{"condition":{"test":"datum.u==1","value":"#22e012"},"value":"#d81414"}}},
{"data":{"values":[{"x":0,"p":80.74},{"x":200,"p":85.43}]},"mark":{"type":"line","color":"#ffff00","strokeWidth":1},"encoding":{"y":{"field":"p","type":"quantitative"}}},
{"data":{"values":[{"p":75.6}]},"mark":{"type":"rule","color":"#8f8f8f","strokeWidth":1},"encoding":{"x":{"value":0},"x2":{"value":1100},"y":{"field":"p","type":"quantitative"}}},
{"data":{"name":"arrows"},"mark":{"type":"trail","color":"#19d6dc"},"encoding":{"y":{"field":"p","type":"quantitative"},"size":{"field":"w","type":"quantitative","scale":null},"detail":{"field":"s"}}},
{"data":{"name":"heads"},"mark":{"type":"point","shape":"triangle-up","filled":true,"color":"#19d6dc","size":110,"opacity":1},"encoding":{"y":{"field":"p","type":"quantitative"},"angle":{"field":"a","type":"quantitative","scale":null}}},
{"data":{"values":[{"x":550,"x2":572,"a":75.78,"b":75.41}]},"mark":{"type":"rect","color":"#ffffff"},"encoding":{"x2":{"field":"x2"},"y":{"field":"a","type":"quantitative"},"y2":{"field":"b"}}},
{"data":{"values":[{"x":553,"p":75.6,"t":"75.60"}]},"mark":{"type":"text","align":"left","baseline":"middle","color":"#000000"},"encoding":{"y":{"field":"p","type":"quantitative"},"text":{"field":"t"}}},
{"data":{"values":[{"x":9,"p":85.17,"t":"CL.Exp,H1"},{"x":41,"p":85.17,"t":"75.53 75.77 75.42 75.60"}]},"mark":{"type":"text","align":"left","baseline":"middle"},"encoding":{"y":{"field":"p","type":"quantitative"},"text":{"field":"t"}}},
{"data":{"values":[{"x":3.25,"p":85.17}]},"mark":{"type":"point","shape":"triangle-down","filled":true,"color":"#ffffff","size":60,"opacity":1},"encoding":{"y":{"field":"p","type":"quantitative"}}},
{"data":{"values":[{"x":441.25,"p":85.39}]},"mark":{"type":"point","shape":"triangle-down","filled":true,"color":"#7d8a9a","size":80,"opacity":1,"clip":true},"encoding":{"y":{"field":"p","type":"quantitative"}}}
]},
{"width":1100,"height":197,
"encoding":{"x":{"field":"x","type":"quantitative","scale":{"domain":[-0.75,549.25],"nice":false,"zero":false},"axis":{"orient":"bottom","values":[0,48,96,144,192,240,288,336,384,432,480],"labelExpr":"['21 Oct 2021','25 Oct 04:00','27 Oct 06:00','29 Oct 08:00','2 Nov 11:00','4 Nov 13:00','8 Nov 17:00','10 Nov 19:00','14 Nov 23:00','17 Nov 01:00','19 Nov 03:00'][datum.value/48]","labelAlign":"left","labelFlush":false,"labelOverlap":false,"labelBound":false,"tickSize":4,"labelPadding":1,"title":null}}},
"layer":[
{"data":{"name":"b"},"mark":{"type":"rule","strokeWidth":1},"encoding":{"y":{"field":"d","type":"quantitative","scale":{"domain":[-0.913,0.762],"nice":false,"zero":false},"axis":{"orient":"right","values":[0.691,0,-0.847],"labelExpr":"datum.value==0?'0.00':format(datum.value,'.3f')","ticks":false,"labelPadding":5,"labelOverlap":false,"labelBound":false,"title":null}},"y2":{"datum":0},"color":{"condition":{"test":"datum.d>0","value":"#c8143c"},"value":"#0a640f"}}},
{"data":{"name":"w"},"mark":{"type":"line","color":"#ffffff","strokeWidth":1.8},"encoding":{"y":{"field":"v","type":"quantitative"}}},
{"data":{"name":"y"},"mark":{"type":"line","color":"#ffff00","strokeWidth":1.8},"encoding":{"y":{"field":"v","type":"quantitative"}}},
{"data":{"values":[{"x":16,"v":-0.028,"w":1},{"x":199,"v":-0.014,"w":2.5},{"x":389,"v":0,"w":3.5},{"x":540,"v":0.014,"w":4.5}]},"mark":{"type":"trail","color":"#19d6dc"},"encoding":{"y":{"field":"v","type":"quantitative"},"size":{"field":"w","type":"quantitative","scale":null}}},
{"data":{"values":[{"x":542,"v":0.014}]},"mark":{"type":"point","shape":"triangle-right","filled":true,"color":"#19d6dc","size":100,"opacity":1},"encoding":{"y":{"field":"v","type":"quantitative"}}},
{"data":{"values":[{"x":2,"v":0.677,"t":"MACD(12,26,9) -0.522 -0.626 0.135 0.000 -0.522 -0.626"}]},"mark":{"type":"text","align":"left","baseline":"middle"},"encoding":{"y":{"field":"v","type":"quantitative"},"text":{"field":"t"}}},
{"data":{"values":[{"x":0.25,"v":-0.887}]},"mark":{"type":"point","shape":"triangle-up","filled":true,"color":"#8a95a5","size":40,"opacity":1,"clip":true},"encoding":{"y":{"field":"v","type":"quantitative"}}},
{"data":{"values":[{"x":507.75,"v":-0.657}]},"mark":{"type":"point","shape":"circle","filled":true,"size":1520,"opacity":1,"color":{"gradient":"linear","x1":0,"y1":0,"x2":0,"y2":1,"stops":[{"offset":0,"color":"#e04a1a"},{"offset":1,"color":"#cc3015"}]}},"encoding":{"y":{"field":"v","type":"quantitative"}}},
{"data":{"values":[{"x":505.25,"v":-0.649}]},"mark":{"type":"point","shape":"circle","filled":true,"size":320,"opacity":1,"color":"#f6b040"},"encoding":{"y":{"field":"v","type":"quantitative"}}},
{"data":{"values":[{"x":505.1,"v":-0.638,"w":1},{"x":508.4,"v":-0.652,"w":3},{"x":507.1,"v":-0.723,"w":1}]},"mark":{"type":"trail","color":"#d8501c"},"encoding":{"y":{"field":"v","type":"quantitative"},"size":{"field":"w","type":"quantitative","scale":null}}},
{"data":{"values":[{"x":502.6,"v":-0.813,"w":1},{"x":508.4,"v":-0.787,"w":6},{"x":512.6,"v":-0.723,"w":5},{"x":515.1,"v":-0.623,"w":1}]},"mark":{"type":"trail","color":"#f09a28"},"encoding":{"y":{"field":"v","type":"quantitative"},"size":{"field":"w","type":"quantitative","scale":null}}},
{"data":{"values":[{"x":544.75,"v":-0.65,"t":"中金网"}]},"mark":{"type":"text","font":"Noto Sans CJK SC","fontWeight":"bold","fontSize":31,"color":"#8a8a8a","align":"center","baseline":"middle"},"encoding":{"y":{"field":"v","type":"quantitative"},"text":{"field":"t"}}},
{"data":{"values":[{"x":545.75,"v":-0.81,"t":"CNGOLD.COM.CN"}]},"mark":{"type":"text","font":"Liberation Sans","fontSize":11,"color":"#707070","align":"center","baseline":"middle"},"encoding":{"y":{"field":"v","type":"quantitative"},"text":{"field":"t"}}},
{"data":{"values":[{"x":502.5,"t":"中","v":-0.929},{"x":513,"t":"文","v":-0.929},{"x":523.5,"t":"财","v":-0.929},{"x":534,"t":"经","v":-0.929},{"x":544.5,"t":"新","v":-0.929},{"x":555,"t":"媒","v":-0.929},{"x":565.5,"t":"体","v":-0.929}]},"mark":{"type":"text","font":"Noto Sans CJK SC","fontSize":12,"color":"#777777","align":"center","baseline":"middle"},"encoding":{"y":{"field":"v","type":"quantitative"},"text":{"field":"t"}}}
]}
]}
